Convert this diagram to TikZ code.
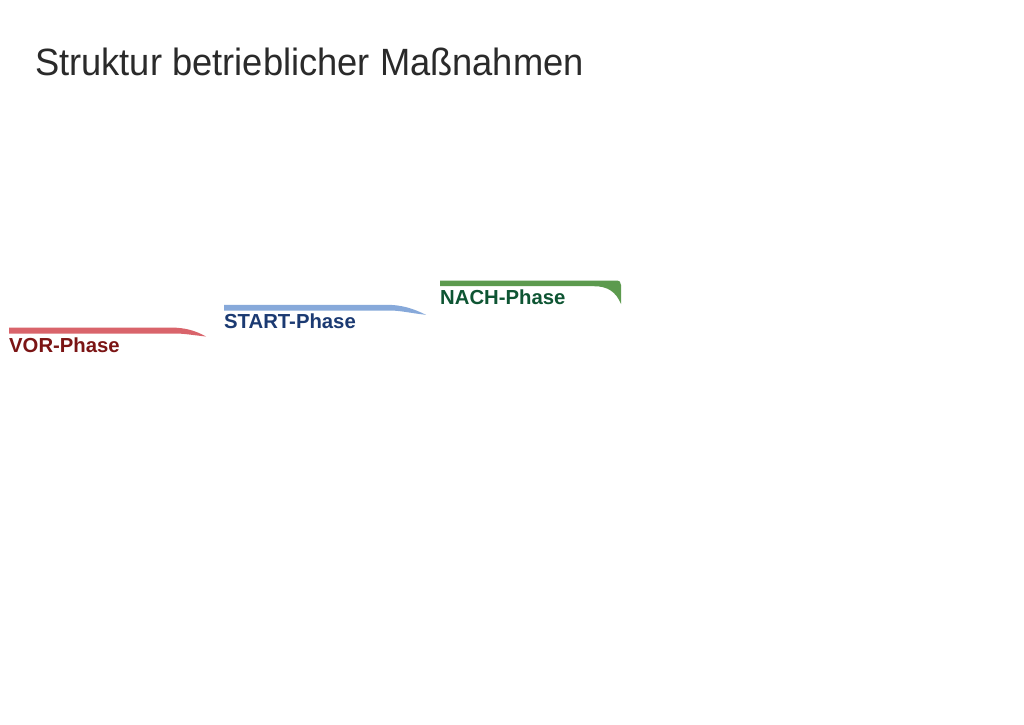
\documentclass[tikz,border=0pt]{standalone}
\usepackage{fontspec}
\setmainfont{Liberation Sans}
\definecolor{vorbar}{HTML}{D9646B}
\definecolor{vortext}{HTML}{7B1414}
\definecolor{startbar}{HTML}{87A9DA}
\definecolor{starttext}{HTML}{1B3A72}
\definecolor{nachbar}{HTML}{5C9A4E}
\definecolor{nachtext}{HTML}{0E5533}
\definecolor{titletext}{HTML}{2A2A2A}
\tikzset{
  phaselabel/.style={anchor=base west, inner sep=0pt, font=\fontsize{20.3}{23}\selectfont\bfseries},
  titlelabel/.style={anchor=base west, inner sep=0pt, font=\fontsize{38}{42}\selectfont, text=titletext}
}
\begin{document}
\begin{tikzpicture}[x=1pt,y=-1pt]
\useasboundingbox (0,0) rectangle (1024,724);
\fill[white] (0,0) rectangle (1024,724);
\node[titlelabel] (title) at (35,75.5) {\scalebox{0.955}[1]{Struktur betrieblicher Maßnahmen}};
% VOR bar
\fill[vorbar] (9,327.5) -- (170,327.5) .. controls (186,327.5) and (196,331) .. (206,336.5)
  .. controls (192,335) and (184,333.5) .. (175,333.5) -- (9,333.5) -- cycle;
\node[phaselabel, text=vortext] (vor) at (9,352) {VOR-Phase};
% START bar
\fill[startbar] (224,304.8) -- (386,304.8) .. controls (403,304.8) and (414,309) .. (426,314.8)
  .. controls (410,313) and (400,310.5) .. (390,310.5) -- (224,310.5) -- cycle;
\node[phaselabel, text=starttext] (start) at (224,328.5) {START-Phase};
% NACH bar
\fill[nachbar] (440,280.5) -- (616,280.5) .. controls (619.5,280.5) and (621,282) .. (621,285)
  -- (621,304) .. controls (616,292) and (608,286.2) .. (594,286.2) -- (440,286.2) -- cycle;
\node[phaselabel, text=nachtext] (nach) at (440,304.5) {NACH-Phase};
\end{tikzpicture}
\end{document}
